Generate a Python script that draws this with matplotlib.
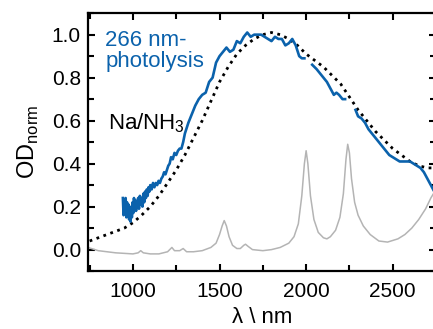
import matplotlib
matplotlib.use('Agg')
import matplotlib.pyplot as plt
from matplotlib.ticker import MultipleLocator

plt.rcParams['font.family'] = ['Liberation Sans', 'DejaVu Sans']
plt.rcParams['mathtext.fontset'] = 'custom'
plt.rcParams['mathtext.rm'] = 'Liberation Sans'

# 266 nm photolysis, three pieces (gaps at solvent bands)
blue1_x = [942, 946, 950, 954, 958, 962, 966, 970, 974, 978, 982, 986, 990, 994, 998, 1002,
           1006, 1010, 1014, 1018, 1022, 1026, 1030, 1035, 1040, 1045, 1050, 1055, 1060, 1065,
           1070, 1075, 1080, 1085, 1090, 1095, 1100, 1108, 1116, 1124, 1132, 1140, 1148, 1156,
           1164, 1172, 1180, 1188, 1196, 1204, 1212, 1220, 1230, 1240, 1250, 1260, 1270, 1280,
           1290, 1300, 1320, 1340, 1360, 1380, 1400, 1420, 1440, 1460, 1480, 1500, 1520, 1540,
           1560, 1580, 1600, 1620, 1640, 1660, 1680, 1700, 1720, 1740, 1760, 1780, 1800,
           1820, 1840, 1860, 1880, 1900, 1920, 1940, 1960, 1975, 1990]
blue1_y = [0.24, 0.16, 0.23, 0.17, 0.24, 0.15, 0.22, 0.18, 0.21, 0.14, 0.20, 0.13, 0.19, 0.15, 0.22, 0.17,
           0.24, 0.19, 0.23, 0.18, 0.22, 0.20, 0.24, 0.19, 0.25, 0.21, 0.24, 0.20, 0.26, 0.22,
           0.27, 0.24, 0.28, 0.25, 0.29, 0.27, 0.30, 0.28, 0.31, 0.29, 0.31, 0.30, 0.32, 0.31,
           0.33, 0.34, 0.36, 0.35, 0.37, 0.39, 0.40, 0.43, 0.42, 0.45, 0.44, 0.46, 0.47, 0.47,
           0.50, 0.54, 0.59, 0.63, 0.67, 0.70, 0.72, 0.73, 0.78, 0.80, 0.87, 0.90, 0.92, 0.94,
           0.92, 0.93, 0.97, 0.96, 0.99, 1.01, 0.99, 1.00, 1.00, 1.00, 0.99, 0.98, 0.97,
           0.99, 0.98, 0.98, 0.95, 0.96, 0.98, 0.95, 0.90, 0.89, 0.89]
blue2_x = [2035, 2060, 2080, 2100, 2120, 2140, 2160, 2175, 2190, 2210, 2225]
blue2_y = [0.86, 0.84, 0.82, 0.80, 0.78, 0.75, 0.72, 0.73, 0.72, 0.70, 0.70]
blue3_x = [2285, 2300, 2320, 2340, 2360, 2380, 2400, 2420, 2440, 2460, 2480, 2500, 2520,
           2540, 2560, 2580, 2600, 2620, 2640, 2660, 2680, 2700, 2720, 2740]
blue3_y = [0.65, 0.62, 0.61, 0.59, 0.56, 0.54, 0.52, 0.50, 0.48, 0.46, 0.44, 0.43, 0.42,
           0.41, 0.41, 0.41, 0.41, 0.40, 0.39, 0.38, 0.36, 0.33, 0.30, 0.27]

# Na/NH3 reference
na_x = [750, 800, 850, 900, 950, 1000, 1050, 1100, 1150, 1200, 1250, 1300, 1350, 1400, 1450,
        1500, 1550, 1600, 1650, 1700, 1750, 1800, 1850, 1900, 1950, 2000, 2050, 2100, 2150,
        2200, 2250, 2300, 2350, 2400, 2450, 2500, 2550, 2600, 2650, 2700, 2750]
na_y = [0.04, 0.055, 0.07, 0.085, 0.10, 0.125, 0.16, 0.20, 0.25, 0.31, 0.37, 0.44, 0.52, 0.60, 0.69,
        0.78, 0.85, 0.91, 0.95, 0.98, 1.00, 1.01, 1.00, 0.98, 0.95, 0.91, 0.88, 0.85, 0.81,
        0.77, 0.71, 0.65, 0.60, 0.55, 0.51, 0.47, 0.44, 0.41, 0.39, 0.38, 0.38]

# solvent (NH3) spectrum
nh3_x = [740, 800, 900, 1000, 1030, 1045, 1060, 1100, 1150, 1200, 1225, 1240, 1270, 1290, 1310,
         1350, 1400, 1450, 1480, 1500, 1515, 1527, 1540, 1555, 1575, 1600, 1620, 1640, 1650,
         1665, 1690, 1750, 1800, 1850, 1900, 1930, 1955, 1975, 1990, 2000, 2010, 2025, 2045,
         2070, 2100, 2120, 2140, 2170, 2195, 2215, 2230, 2240, 2250, 2262, 2280, 2300, 2330,
         2370, 2420, 2470, 2530, 2570, 2610, 2650, 2690, 2720, 2750]
nh3_y = [0.01, -0.005, -0.015, -0.02, -0.015, -0.005, -0.015, -0.02, -0.02, -0.01, 0.01, -0.005,
         -0.005, 0.005, -0.01, -0.01, -0.005, 0.01, 0.03, 0.07, 0.11, 0.135, 0.11, 0.06, 0.02,
         0.005, 0.005, 0.02, 0.025, 0.015, 0.0, -0.005, 0.0, 0.01, 0.03, 0.06, 0.12, 0.25, 0.40,
         0.46, 0.40, 0.25, 0.14, 0.08, 0.055, 0.05, 0.06, 0.09, 0.15, 0.26, 0.42, 0.49, 0.45,
         0.33, 0.22, 0.16, 0.11, 0.07, 0.04, 0.035, 0.05, 0.07, 0.10, 0.14, 0.19, 0.24, 0.28]

blue = '#0b62ac'

fig = plt.figure(figsize=(4.33, 3.29), dpi=100)
ax = fig.add_axes([0.203, 0.176, 0.804, 0.784])

ax.plot(nh3_x, nh3_y, color='#b4b4b4', lw=1.1)
ax.plot(na_x, na_y, color='black', lw=2.0, ls=':')
for bx, by in [(blue1_x, blue1_y), (blue2_x, blue2_y), (blue3_x, blue3_y)]:
    ax.plot(bx, by, color=blue, lw=1.9)

ax.set_xlim(740, 2750)
ax.set_ylim(-0.1, 1.1)
ax.xaxis.set_major_locator(MultipleLocator(500))
ax.xaxis.set_minor_locator(MultipleLocator(250))
ax.yaxis.set_major_locator(MultipleLocator(0.2))
ax.yaxis.set_minor_locator(MultipleLocator(0.1))
ax.yaxis.set_major_formatter(plt.FuncFormatter(lambda v, p: f'{v:.1f}'))
ax.tick_params(which='both', direction='in', top=True, right=True, width=1.5, labelsize=15)
ax.tick_params(which='major', length=5)
ax.tick_params(which='minor', length=4)
ax.tick_params(axis='x', pad=8)
ax.tick_params(axis='y', pad=5)
for s in ax.spines.values():
    s.set_linewidth(1.6)

ax.set_xlabel('λ \\ nm', fontsize=16, labelpad=4)
ax.set_ylabel('OD$_{\\mathrm{norm}}$', fontsize=17, labelpad=8)

ax.text(0.05, 0.935, '266 nm-\nphotolysis', transform=ax.transAxes, color=blue,
        fontsize=16, va='top', ha='left', linespacing=1.0)
ax.text(0.058, 0.575, 'Na/NH$_3$', transform=ax.transAxes, color='black',
        fontsize=16, va='center', ha='left')

fig.savefig('out.png', dpi=100)
